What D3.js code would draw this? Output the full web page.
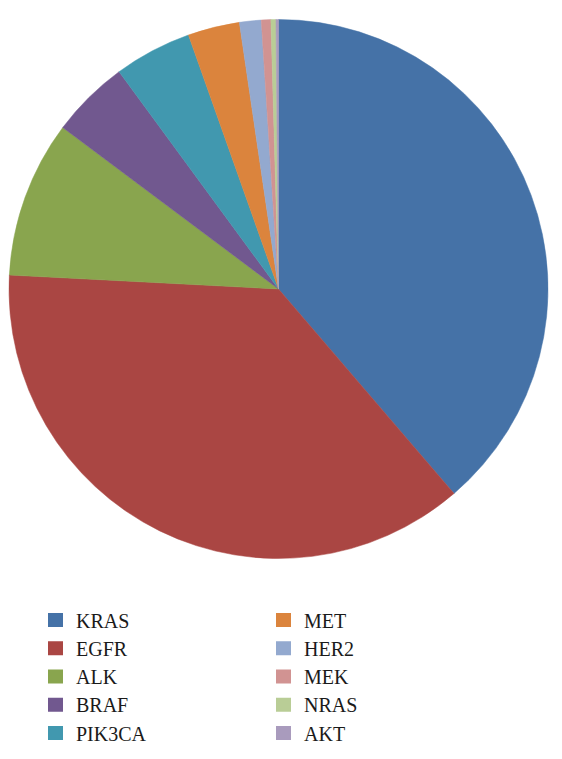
<!DOCTYPE html>
<html>
<head>
<meta charset="utf-8">
<script src="https://cdn.jsdelivr.net/npm/d3@7"></script>
<style>
  html, body { margin: 0; padding: 0; background: #fff; }
  svg { display: block; }
  .legend text { font-family: "Liberation Serif", "Times New Roman", serif; font-size: 20px; fill: #1a1a1a; }
</style>
</head>
<body>
<svg id="chart" width="562" height="759"></svg>
<script>
const categories = ["KRAS", "EGFR", "ALK", "BRAF", "PIK3CA", "MET", "HER2", "MEK", "NRAS", "AKT"];
const values = [38.7, 37.1, 9.4, 4.7, 4.65, 3.1, 1.3, 0.57, 0.3, 0.15];
const colors = ["#4572A7", "#AA4643", "#89A54E", "#71588F", "#4198AF", "#DB843D", "#93A9CF", "#D19392", "#B9CD96", "#A99BBD"];

const svg = d3.select("#chart");
const cx = 278.5, cy = 289, r = 269.5;

const data = categories.map((c, i) => ({ name: c, value: values[i], color: colors[i] }));

const pie = d3.pie().value(d => d.value).sort(null);
const arc = d3.arc().innerRadius(0).outerRadius(r);

svg.append("g")
  .attr("transform", `translate(${cx},${cy})`)
  .selectAll("path")
  .data(pie(data))
  .join("path")
  .attr("d", arc)
  .attr("fill", d => d.data.color)
  .attr("stroke", d => d.data.color)
  .attr("stroke-width", 0.5);

// Legend
const rowScale = d3.scaleLinear().domain([0, 1]).range([620, 648.25]);
const colX = [48, 276];
const legend = svg.append("g").attr("class", "legend");
data.forEach((d, i) => {
  const col = Math.floor(i / 5), row = i % 5;
  const y = rowScale(row);
  const g = legend.append("g").attr("transform", `translate(${colX[col]},${y})`);
  g.append("rect").attr("x", 0).attr("y", -7).attr("width", 15).attr("height", 14).attr("fill", d.color);
  g.append("text").attr("x", 28).attr("y", 7.5).text(d.name);
});
</script>
</body>
</html>
